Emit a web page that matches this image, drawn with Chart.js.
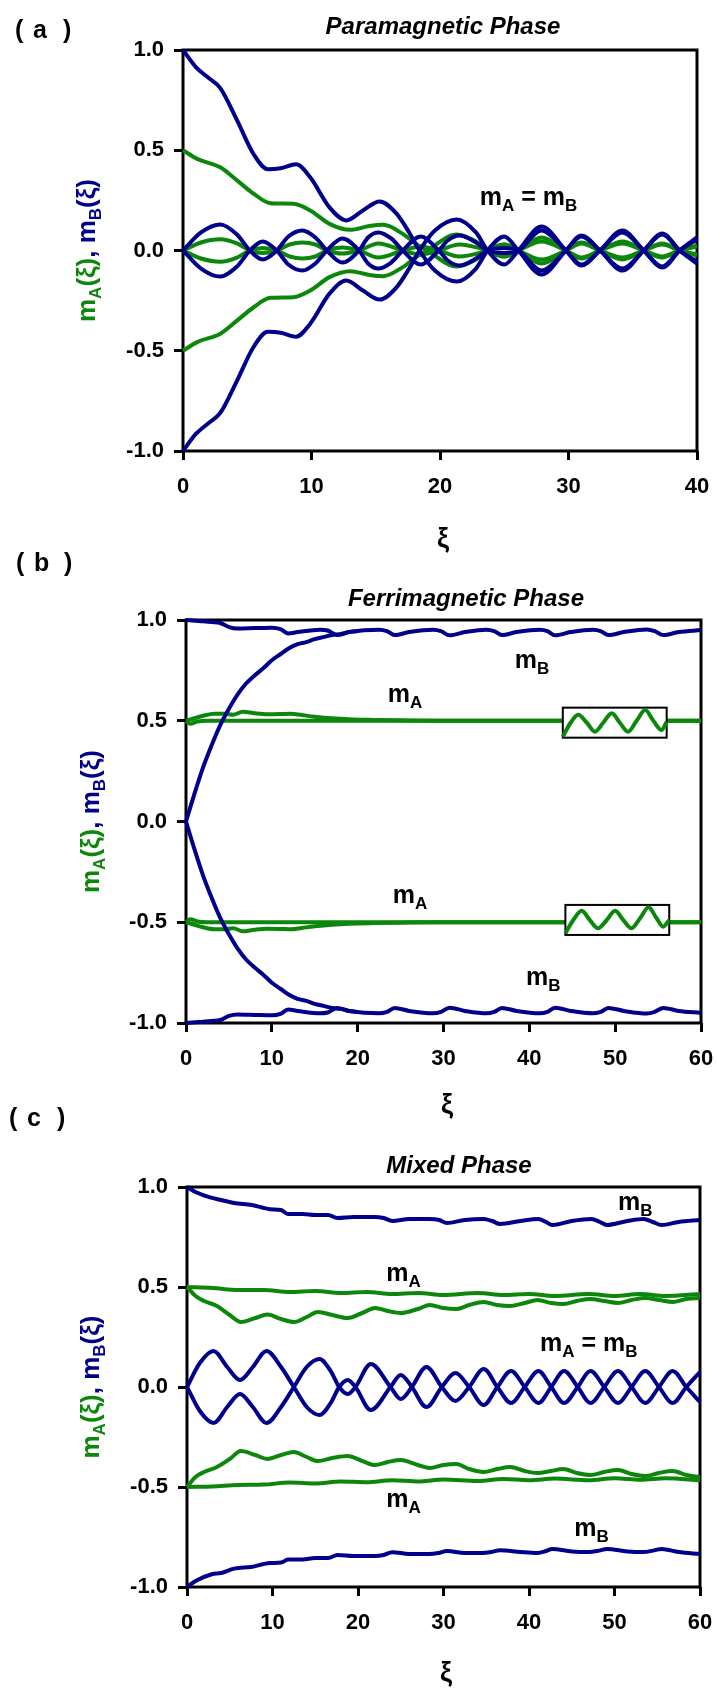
<!DOCTYPE html>
<html lang="en">
<head>
<meta charset="utf-8" />
<title>m_A(xi), m_B(xi) - three phases</title>
<script src="https://cdn.jsdelivr.net/npm/chart.js@4/dist/chart.umd.min.js"></script>
<style>
  body { margin: 0; background: #fff; }
  #wrap { position: relative; width: 717px; height: 1695px; }
  canvas { position: absolute; left: 0; }
</style>
</head>
<body>
<div id="wrap">
  <canvas id="chartA" width="717" height="570" style="top:0px;width:717px;height:570px"></canvas>
  <canvas id="chartB" width="717" height="580" style="top:540px;width:717px;height:580px"></canvas>
  <canvas id="chartC" width="717" height="600" style="top:1095px;width:717px;height:600px"></canvas>
</div>
<script>
// ---------- (a) Paramagnetic phase ----------
var aOuterXi = [0,1,2,2.9,4.2,5.5,6.6,7.6,8.8,9.9,11.4,12.7,14,15.3,16.6,17.6,18.4,19.6,21.3,22.8,23.7,25,26.1,27.9,29.8,31,32.45,34.2,35.85,37.3,38.65,40];
var aBlueOuterUp = [1,0.915,0.86,0.81,0.65,0.48,0.405,0.41,0.43,0.365,0.215,0.15,0.2,0.245,0.185,0.09,0,-0.1,-0.155,-0.09,0,0.07,0,-0.12,0,0.075,0,-0.1,0,0.085,0,-0.065];
var aBlueOuterDown = [-1,-0.915,-0.86,-0.81,-0.65,-0.48,-0.405,-0.41,-0.43,-0.365,-0.215,-0.15,-0.2,-0.245,-0.185,-0.09,0,0.1,0.155,0.09,0,-0.07,0,0.12,0,-0.075,0,0.1,0,-0.085,0,0.065];

var aInnerXi = [0,1.4,2.9,4.2,5.2,6.2,7.3,8.2,9.3,10.3,11.2,12.4,13.7,14.4,15.2,16.2,17.1,18.5,19.9,20.6,21.5,22.8,23.7,25,26.1,27.9,29.8,31,32.45,34.2,35.85,37.3,38.65,40];
var aBlueInnerUp = [0,0.09,0.13,0.08,0,-0.045,0,0.07,0.1,0.065,0,-0.06,0,0.065,0.09,0.06,0,-0.07,0,0.05,0.075,0.04,0,-0.012,0,0.1,0,-0.07,0,0.09,0,-0.08,0,0.055];
var aBlueInnerDown = [0,-0.09,-0.13,-0.08,0,0.045,0,-0.07,-0.1,-0.065,0,0.06,0,-0.065,-0.09,-0.06,0,0.07,0,-0.05,-0.075,-0.04,0,0.012,0,-0.1,0,0.07,0,-0.09,0,0.08,0,-0.055];

var aGreenOuterXi = [0,1.1,2.9,4.2,5.5,6.8,8.6,9.9,11.4,13,14.5,15.6,17.1,18.2,19,21.3,22.8,23.7,25,26.1,27.9,29.8,31,32.45,34.2,35.85,37.3,38.65,40];
var aGreenOuterUp = [0.5,0.457,0.415,0.35,0.283,0.236,0.233,0.2,0.133,0.103,0.122,0.128,0.083,0.03,0,-0.08,-0.045,0,0.03,0,-0.065,0,0.04,0,-0.045,0,0.035,0,-0.025];
var aGreenOuterDown = [-0.5,-0.457,-0.415,-0.35,-0.283,-0.236,-0.233,-0.2,-0.133,-0.103,-0.122,-0.128,-0.083,-0.03,0,0.08,0.045,0,-0.03,0,0.065,0,-0.04,0,0.045,0,-0.035,0,0.025];

var aGreenInnerXi = [0,1.4,2.9,4.2,5.2,6.2,7.3,8.3,9.3,10.3,11.2,12.4,13.7,15.2,17.1,18.5,19.9,21.5,23.7,25,26.1,27.9,29.8,31,32.45,34.2,35.85,37.3,38.65,40];
var aGreenInnerUp = [0,0.04,0.056,0.035,0,-0.012,0,0.03,0.04,0.03,0,-0.015,0,0.035,0,-0.02,0,0.03,0,-0.03,0,0.045,0,-0.035,0,0.035,0,-0.03,0,0.02];
var aGreenInnerDown = [0,-0.04,-0.056,-0.035,0,0.012,0,-0.03,-0.04,-0.03,0,0.015,0,-0.035,0,0.02,0,-0.03,0,0.03,0,-0.045,0,0.035,0,-0.035,0,0.03,0,-0.02];

// ---------- (b) Ferrimagnetic phase ----------
var bTopXi = [0,1.5,3,4,5,6,8,10,11,11.9,13,15.6,16.5,17.6,19,22.5,23.4,24.3,26,28.8,29.7,30.7,32.5,35,35.9,36.8,38.5,41.2,42.1,43,44.8,47.4,48.3,49.2,51,53.7,54.6,55.6,57.4,60];
var bBlueTop = [1,0.995,0.99,0.985,0.965,0.958,0.96,0.962,0.955,0.933,0.94,0.952,0.948,0.925,0.94,0.952,0.945,0.925,0.94,0.952,0.945,0.924,0.94,0.952,0.945,0.925,0.94,0.952,0.945,0.924,0.94,0.952,0.945,0.925,0.94,0.953,0.945,0.925,0.94,0.95];
var bBlueBottom = [-1,-0.995,-0.99,-0.985,-0.965,-0.958,-0.96,-0.962,-0.955,-0.933,-0.94,-0.952,-0.948,-0.925,-0.94,-0.952,-0.945,-0.925,-0.94,-0.952,-0.945,-0.924,-0.94,-0.952,-0.945,-0.925,-0.94,-0.952,-0.945,-0.924,-0.94,-0.952,-0.945,-0.925,-0.94,-0.953,-0.945,-0.925,-0.94,-0.95];

var bRiseXi = [0,1,2,3,4,5,6,7,8,9,10,11,12,13,14,15,16,17,18,19,20];
var bBlueRise = [0,0.14,0.27,0.38,0.48,0.56,0.63,0.685,0.725,0.76,0.8,0.83,0.86,0.88,0.89,0.905,0.915,0.925,0.93,0.94,0.945];
var bBlueFall = [0,-0.14,-0.27,-0.38,-0.48,-0.56,-0.63,-0.685,-0.725,-0.76,-0.8,-0.83,-0.86,-0.88,-0.89,-0.905,-0.915,-0.925,-0.93,-0.94,-0.945];

var bFlatXi = [0,0.5,1.3,2.5,60];
var bGreenFlatUp = [0.5,0.485,0.496,0.5,0.5];
var bGreenFlatDown = [-0.5,-0.485,-0.496,-0.5,-0.5];

var bBumpXi = [0,0.8,2,3.3,4.5,5.5,6.6,8,9.5,11,12.2,13.5,15,17,19,22,25,30,35,60];
var bGreenBumpUp = [0.5,0.51,0.525,0.535,0.535,0.53,0.545,0.537,0.532,0.533,0.535,0.528,0.52,0.512,0.507,0.504,0.502,0.5,0.5,0.5];
var bGreenBumpDown = [-0.5,-0.51,-0.525,-0.535,-0.535,-0.53,-0.545,-0.537,-0.532,-0.533,-0.535,-0.528,-0.52,-0.512,-0.507,-0.504,-0.502,-0.5,-0.5,-0.5];

// magnified oscillation insets
var bInsetUpXi = [43.9,44.8,45.7,46.7,47.65,48.6,49.6,50.55,51.5,52.5,53.5,54.45,55.4,56.0];
var bInsetUpVal = [0.42,0.49,0.53,0.49,0.446,0.49,0.537,0.49,0.446,0.5,0.553,0.5,0.454,0.495];
var bInsetUpBoxXi = [43.9, 56.0];
var bInsetUpBoxM = [0.416, 0.565];
var bInsetDownXi = [44.2,45.1,46.1,47.05,48,49,50,50.95,51.9,52.9,53.9,54.75,55.6,56.3];
var bInsetDownVal = [-0.555,-0.49,-0.443,-0.49,-0.53,-0.49,-0.443,-0.49,-0.53,-0.48,-0.426,-0.475,-0.522,-0.489];
var bInsetDownBoxXi = [44.2, 56.3];
var bInsetDownBoxM = [-0.563, -0.414];

// ---------- (c) Mixed phase ----------
var cTopXi = [0,1,2.7,4,5.5,7.6,9.7,11,11.8,13.5,15,16.5,17.6,19.5,21.9,23,24,26,28.3,29.5,30.4,32.5,34.7,35.7,36.6,39,41.1,42,42.7,45,47.3,48.3,49.1,51.5,53.4,54.5,55.5,57.5,60];
var cBlueTop = [1,0.975,0.948,0.935,0.92,0.91,0.889,0.885,0.865,0.865,0.86,0.86,0.845,0.85,0.85,0.845,0.83,0.84,0.84,0.835,0.82,0.835,0.84,0.83,0.815,0.83,0.84,0.825,0.81,0.83,0.84,0.825,0.81,0.83,0.84,0.825,0.81,0.825,0.835];
var cBotXi = [0,1,2.9,4,5.5,7.5,9.7,11,11.8,13.5,15,16.5,17.6,19.5,21.9,23,24,26,28.3,29.4,30.4,32.5,34.5,35.6,36.6,39,41,42,42.7,45,47,48.2,49.1,51.5,53.4,54.5,55.5,57.5,60];
var cBlueBottom = [-1,-0.97,-0.936,-0.93,-0.908,-0.9,-0.88,-0.878,-0.863,-0.862,-0.855,-0.855,-0.84,-0.845,-0.845,-0.84,-0.826,-0.835,-0.835,-0.83,-0.82,-0.83,-0.83,-0.825,-0.816,-0.825,-0.83,-0.82,-0.81,-0.822,-0.825,-0.818,-0.81,-0.822,-0.825,-0.818,-0.81,-0.825,-0.835];

var cOscXi = [0,1.5,3.1,4.7,6.2,7.7,9.3,11,12.5,14,15.5,16.8,17.8,18.8,19.7,21.5,23.8,25,26.3,28,29.8,31.4,33,34.7,36.3,37.9,39.5,41.1,42.6,44.1,45.7,47.2,48.8,50.4,52,53.6,55.2,56.8,58.4,60];
var cBlueOscUp = [0,0.12,0.18,0.1,0.035,0.1,0.18,0.1,0,-0.1,-0.14,-0.08,0,0.035,0,-0.115,0,0.06,0,-0.1,0,0.07,0,-0.09,0,0.08,0,-0.08,0,0.08,0,-0.08,0,0.08,0,-0.08,0,0.08,0,-0.075];
var cBlueOscDown = [0,-0.12,-0.18,-0.1,-0.035,-0.1,-0.18,-0.1,0,0.1,0.14,0.08,0,-0.035,0,0.115,0,-0.06,0,0.1,0,-0.07,0,0.09,0,-0.08,0,0.08,0,-0.08,0,0.08,0,-0.08,0,0.08,0,-0.08,0,0.075];

var cFlatXi = [0,3,6,9,12,15,18,21,24,27,30,34,37,40,43,47,50,53,56,60];
var cGreenFlatUp = [0.5,0.495,0.485,0.485,0.475,0.48,0.47,0.475,0.465,0.47,0.46,0.47,0.46,0.465,0.455,0.465,0.455,0.465,0.455,0.465];
var cGreenFlatDown = [-0.5,-0.497,-0.49,-0.488,-0.478,-0.482,-0.472,-0.476,-0.466,-0.472,-0.462,-0.47,-0.46,-0.466,-0.458,-0.466,-0.456,-0.464,-0.456,-0.466];
var cWavyXi = [0,1,2,3.5,5,6.3,8,9.4,11,12.5,14,15.3,17,18.8,20.5,22,23.5,25,27,28.4,30,31.5,33,34.7,36.3,37.8,39.5,41,42.6,44,45.6,47.2,48.8,50.4,52,53.6,55.2,56.8,58.4,60];
var cGreenWavyUp = [0.5,0.455,0.43,0.405,0.36,0.325,0.345,0.362,0.34,0.325,0.35,0.375,0.36,0.345,0.37,0.395,0.38,0.37,0.39,0.41,0.395,0.39,0.41,0.425,0.41,0.405,0.42,0.435,0.42,0.415,0.43,0.44,0.43,0.42,0.435,0.445,0.435,0.425,0.44,0.445];
var cGreenWavyDown = [-0.5,-0.45,-0.425,-0.4,-0.36,-0.32,-0.34,-0.36,-0.34,-0.325,-0.35,-0.37,-0.355,-0.345,-0.37,-0.39,-0.375,-0.365,-0.39,-0.405,-0.39,-0.385,-0.41,-0.425,-0.41,-0.4,-0.42,-0.43,-0.42,-0.41,-0.43,-0.44,-0.425,-0.415,-0.435,-0.445,-0.43,-0.42,-0.44,-0.45];

var yTicks = [-1, -0.5, 0, 0.5, 1];

// ---------- styling / helpers ----------
var BLUE = '#00008b';
var GREEN = '#0c870c';
var FAMILY = '"Liberation Sans", Arial, Helvetica, sans-serif';
var LW = 4;

function series(xs, ys, color, order) {
  return {
    data: xs.map(function (x, i) { return { x: x, y: ys[i] }; }),
    borderColor: color,
    borderWidth: LW,
    pointRadius: 0,
    cubicInterpolationMode: 'monotone',
    fill: false,
    clip: 6,
    order: order
  };
}

// text with subscripts, drawn left to right
function drawRich(ctx, parts, x, y, align, size, subSize, subDrop) {
  var w = 0;
  parts.forEach(function (p) {
    ctx.font = 'bold ' + (p.sub ? subSize : size) + 'px ' + FAMILY;
    p.w = ctx.measureText(p.t).width;
    w += p.w;
  });
  var cx = align === 'center' ? x - w / 2 : x;
  ctx.textAlign = 'left';
  ctx.textBaseline = 'alphabetic';
  parts.forEach(function (p) {
    ctx.font = 'bold ' + (p.sub ? subSize : size) + 'px ' + FAMILY;
    ctx.fillStyle = p.c || '#000';
    ctx.fillText(p.t, cx, y + (p.sub ? subDrop : 0));
    cx += p.w;
  });
}

var yTitleParts = [
  { t: 'm', c: GREEN }, { t: 'A', c: GREEN, sub: true }, { t: '(\u03be)', c: GREEN },
  { t: ', ', c: BLUE }, { t: 'm', c: BLUE }, { t: 'B', c: BLUE, sub: true }, { t: '(\u03be)', c: BLUE }
];
var mA = [{ t: 'm' }, { t: 'A', sub: true }];
var mB = [{ t: 'm' }, { t: 'B', sub: true }];
var mAeqB = [{ t: 'm' }, { t: 'A', sub: true }, { t: ' = ' }, { t: 'm' }, { t: 'B', sub: true }];

var framePlugin = {
  id: 'frame',
  beforeDatasetsDraw: function (chart) {
    var a = chart.chartArea, ctx = chart.ctx;
    ctx.save();
    ctx.strokeStyle = '#000';
    ctx.lineWidth = 3;
    ctx.strokeRect(a.left, a.top, a.right - a.left, a.bottom - a.top);
    ctx.restore();
  },
  // white box behind a magnified inset curve
  beforeDatasetDraw: function (chart, args) {
    var ds = chart.data.datasets[args.index];
    if (!ds.inset) return;
    var xs = chart.scales.x, ys = chart.scales.y, ctx = chart.ctx;
    var x0 = xs.getPixelForValue(ds.inset.xi[0]), x1 = xs.getPixelForValue(ds.inset.xi[1]);
    var y0 = ys.getPixelForValue(ds.inset.m[1]), y1 = ys.getPixelForValue(ds.inset.m[0]);
    ctx.save();
    ctx.fillStyle = '#fff';
    ctx.fillRect(x0, y0, x1 - x0, y1 - y0);
    ctx.strokeStyle = '#000';
    ctx.lineWidth = 2;
    ctx.strokeRect(x0, y0, x1 - x0, y1 - y0);
    ctx.restore();
  }
};

function textPlugin(p) {
  return {
    id: 'texts',
    afterDraw: function (chart) {
      var ctx = chart.ctx, xs = chart.scales.x, ys = chart.scales.y;
      ctx.save();
      ctx.fillStyle = '#000';
      ctx.font = 'bold 25px ' + FAMILY;
      ctx.textAlign = 'left';
      ctx.textBaseline = 'alphabetic';
      ctx.fillText('(', p.tag.x, p.tag.y);
      ctx.fillText(p.tag.letter, p.tag.x + 18, p.tag.y);
      ctx.fillText(')', p.tag.x + 48, p.tag.y);

      ctx.font = 'italic bold 24px ' + FAMILY;
      ctx.textAlign = 'center';
      ctx.textBaseline = 'middle';
      ctx.fillText(p.title.text, p.title.x, p.title.y);

      ctx.font = 'bold 27px ' + FAMILY;
      ctx.fillText('\u03be', p.xiLabel.x, p.xiLabel.y);

      ctx.save();
      ctx.translate(p.yTitle.x, p.yTitle.y);
      ctx.rotate(-Math.PI / 2);
      drawRich(ctx, yTitleParts, 0, 0, 'center', 26, 17, 6);
      ctx.restore();

      p.notes.forEach(function (n) {
        drawRich(ctx, n.parts, xs.getPixelForValue(n.xi), ys.getPixelForValue(n.m), 'left', 25, 17, 6);
      });
      ctx.restore();
    }
  };
}

function makePanel(id, p) {
  var canvas = document.getElementById(id);
  var H = canvas.height;
  var tickFont = { family: FAMILY, size: 22, weight: 'bold' };
  return new Chart(canvas, {
    type: 'line',
    data: { datasets: p.datasets },
    options: {
      responsive: false,
      maintainAspectRatio: false,
      animation: false,
      events: [],
      layout: { padding: { left: 0, right: 717 - p.area.right, top: p.area.top, bottom: 0 } },
      plugins: { legend: { display: false }, tooltip: { enabled: false }, title: { display: false } },
      scales: {
        x: {
          type: 'linear', min: 0, max: p.xMax,
          ticks: { stepSize: 10, color: '#000', font: tickFont, padding: 14, maxRotation: 0 },
          grid: { drawOnChartArea: false, tickLength: 9, tickWidth: 3, tickColor: '#000' },
          border: { display: false },
          afterFit: function (s) { s.height = H - p.area.bottom; s.paddingLeft = 0; s.paddingRight = 0; }
        },
        y: {
          type: 'linear', min: -1, max: 1,
          afterBuildTicks: function (s) { s.ticks = yTicks.map(function (v) { return { value: v }; }); },
          ticks: {
            color: '#000', font: tickFont, padding: 10,
            callback: function (v) { return Math.abs(v) < 1e-9 ? '0.0' : Number(v).toFixed(1); }
          },
          grid: { drawOnChartArea: false, tickLength: 9, tickWidth: 3, tickColor: '#000' },
          border: { display: false },
          afterFit: function (s) { s.width = p.area.left; s.paddingTop = 0; s.paddingBottom = 0; }
        }
      }
    },
    plugins: [framePlugin, textPlugin(p)]
  });
}

// panel (a)
makePanel('chartA', {
  area: { left: 183, right: 697, top: 50, bottom: 451 },
  xMax: 40,
  tag: { letter: 'a', x: 15, y: 38 },
  title: { text: 'Paramagnetic Phase', x: 443, y: 27 },
  xiLabel: { x: 443, y: 540 },
  yTitle: { x: 95, y: 250.5 },
  notes: [{ parts: mAeqB, xi: 23.1, m: 0.227 }],
  datasets: [
    series(aOuterXi, aBlueOuterUp, BLUE, 2),
    series(aOuterXi, aBlueOuterDown, BLUE, 2),
    series(aInnerXi, aBlueInnerUp, BLUE, 2),
    series(aInnerXi, aBlueInnerDown, BLUE, 2),
    series(aGreenOuterXi, aGreenOuterUp, GREEN, 3),
    series(aGreenOuterXi, aGreenOuterDown, GREEN, 3),
    series(aGreenInnerXi, aGreenInnerUp, GREEN, 3),
    series(aGreenInnerXi, aGreenInnerDown, GREEN, 3)
  ]
});

// panel (b)
var upInset = series(bInsetUpXi, bInsetUpVal, GREEN, 0);
upInset.inset = { xi: bInsetUpBoxXi, m: bInsetUpBoxM };
var downInset = series(bInsetDownXi, bInsetDownVal, GREEN, 0);
downInset.inset = { xi: bInsetDownBoxXi, m: bInsetDownBoxM };

makePanel('chartB', {
  area: { left: 186, right: 701, top: 80, bottom: 483 },
  xMax: 60,
  tag: { letter: 'b', x: 16, y: 31 },
  title: { text: 'Ferrimagnetic Phase', x: 466, y: 59 },
  xiLabel: { x: 447, y: 566 },
  yTitle: { x: 99, y: 281.5 },
  notes: [
    { parts: mB, xi: 38.3, m: 0.76 },
    { parts: mA, xi: 23.5, m: 0.593 },
    { parts: mA, xi: 24.1, m: -0.404 },
    { parts: mB, xi: 39.6, m: -0.811 }
  ],
  datasets: [
    upInset,
    downInset,
    series(bTopXi, bBlueTop, BLUE, 2),
    series(bTopXi, bBlueBottom, BLUE, 2),
    series(bRiseXi, bBlueRise, BLUE, 2),
    series(bRiseXi, bBlueFall, BLUE, 2),
    series(bFlatXi, bGreenFlatUp, GREEN, 3),
    series(bFlatXi, bGreenFlatDown, GREEN, 3),
    series(bBumpXi, bGreenBumpUp, GREEN, 3),
    series(bBumpXi, bGreenBumpDown, GREEN, 3)
  ]
});

// panel (c)
makePanel('chartC', {
  area: { left: 187, right: 700, top: 92, bottom: 492 },
  xMax: 60,
  tag: { letter: 'c', x: 9, y: 31 },
  title: { text: 'Mixed Phase', x: 459, y: 71 },
  xiLabel: { x: 446, y: 579 },
  yTitle: { x: 99, y: 292 },
  notes: [
    { parts: mB, xi: 50.4, m: 0.885 },
    { parts: mA, xi: 23.3, m: 0.53 },
    { parts: mAeqB, xi: 41.3, m: 0.18 },
    { parts: mA, xi: 23.3, m: -0.6 },
    { parts: mB, xi: 45.3, m: -0.745 }
  ],
  datasets: [
    series(cTopXi, cBlueTop, BLUE, 2),
    series(cBotXi, cBlueBottom, BLUE, 2),
    series(cOscXi, cBlueOscUp, BLUE, 2),
    series(cOscXi, cBlueOscDown, BLUE, 2),
    series(cFlatXi, cGreenFlatUp, GREEN, 3),
    series(cFlatXi, cGreenFlatDown, GREEN, 3),
    series(cWavyXi, cGreenWavyUp, GREEN, 3),
    series(cWavyXi, cGreenWavyDown, GREEN, 3)
  ]
});
</script>
</body>
</html>
